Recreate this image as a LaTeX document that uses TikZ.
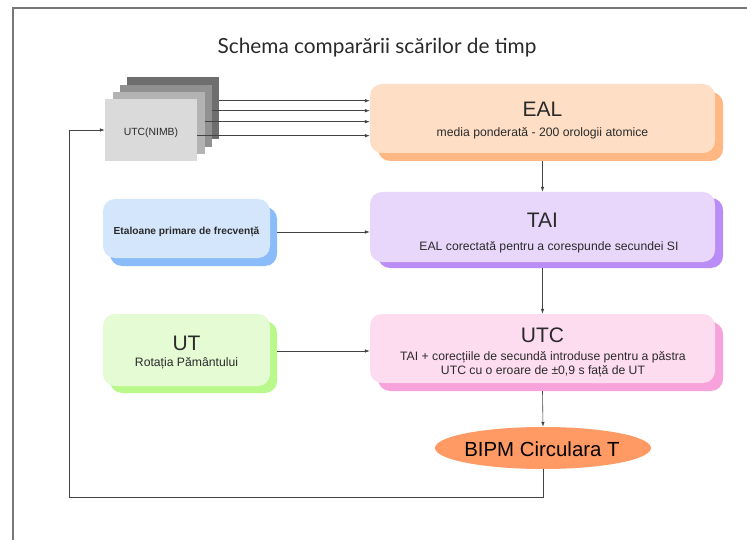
\documentclass[tikz,border=0pt]{standalone}
\usepackage{fontspec}
\setmainfont{Liberation Sans}
\newfontfamily\titlefont{Lato}
\usetikzlibrary{arrows.meta,shapes.geometric,shadows}
\definecolor{framec}{HTML}{777777}
\definecolor{linec}{HTML}{444444}
\definecolor{ealf}{HTML}{FEDFC6}
\definecolor{eals}{HTML}{FFB884}
\definecolor{taif}{HTML}{E8D7FB}
\definecolor{tais}{HTML}{BA8CF6}
\definecolor{etaf}{HTML}{D4E6FC}
\definecolor{etas}{HTML}{89BCF8}
\definecolor{utf}{HTML}{E5FBD4}
\definecolor{uts}{HTML}{B9F98B}
\definecolor{utcf}{HTML}{FEDCF0}
\definecolor{utcs}{HTML}{F8A2DB}
\definecolor{bipmf}{HTML}{FF9A64}
\definecolor{g1}{HTML}{DADADA}
\definecolor{g2}{HTML}{B3B3B3}
\definecolor{g3}{HTML}{919191}
\definecolor{g4}{HTML}{6E6E6E}
\definecolor{txt}{HTML}{2A2A2A}
\begin{document}
\begin{tikzpicture}[x=1pt,y=-1pt,
  card/.style={draw=none, rectangle, rounded corners=12pt, inner sep=0pt},
  stackbox/.style={draw=none, rectangle, inner sep=0pt, minimum width=92pt, minimum height=62pt},
  big/.style={font=\fontsize{21}{21}\selectfont, text=txt, inner sep=0pt},
  small/.style={font=\fontsize{12.2}{14}\selectfont, text=txt, inner sep=0pt, align=center},
  arr/.style={draw=linec, line width=0.6pt, -{Latex[length=5pt,width=3.5pt]}},
  ln/.style={draw=linec, line width=0.6pt}]
\useasboundingbox (0,0) rectangle (747,540);
\fill[white] (0,0) rectangle (747,540);
\draw[framec, line width=1.3pt] (13,540) -- (13,8) -- (747,8);

\node[font=\titlefont\fontsize{20.8}{21}\selectfont, text=txt, inner sep=0pt] (title) at (377,48) {Schema comparării scărilor de timp};

% UTC(NIMB) stack
\node[stackbox, fill=g4] (n4) at (172.5,108) {};
\node[stackbox, fill=g3] (n3) at (165.5,116) {};
\node[stackbox, fill=g2] (n2) at (158.5,123) {};
\node[stackbox, fill=g1] (n1) at (151,130) {};
\node[font=\fontsize{10.4}{12}\selectfont, text=txt, inner sep=0pt] (nimbt) at (151,133) {UTC(NIMB)};

% boxes
\node[card, fill=ealf, minimum width=345pt, minimum height=69pt,
  general shadow={fill=eals, shadow xshift=8pt, shadow yshift=-8pt}] (eal) at (542.5,118.5) {};
\node[big] (ealt) at (542.5,109) {EAL};
\node[small] (eals) at (542.5,133) {media ponderată - 200 orologii atomice};

\node[card, fill=taif, minimum width=345pt, minimum height=70pt,
  general shadow={fill=tais, shadow xshift=8pt, shadow yshift=-6pt}] (tai) at (542.5,227) {};
\node[big] (tait) at (542.5,220) {TAI};
\node[small] (tais) at (549,247) {EAL corectată pentru a corespunde secundei SI};

\node[card, fill=etaf, minimum width=167pt, minimum height=59pt,
  general shadow={fill=etas, shadow xshift=7pt, shadow yshift=-8pt}] (eta) at (186.5,228.5) {};
\node[font=\bfseries\fontsize{10.2}{12}\selectfont, text=txt, inner sep=0pt] (etat) at (186.5,232) {Etaloane primare de frecvență};

\node[card, fill=utf, minimum width=167pt, minimum height=72pt,
  general shadow={fill=uts, shadow xshift=7pt, shadow yshift=-7pt}] (ut) at (186.5,350) {};
\node[big] (utt) at (186.5,343) {UT};
\node[small] (uts) at (186.5,363) {Rotația Pământului};

\node[card, fill=utcf, minimum width=345pt, minimum height=69pt,
  general shadow={fill=utcs, shadow xshift=8pt, shadow yshift=-8pt}] (utc) at (542.5,348.5) {};
\node[big] (utct) at (542.5,335) {UTC};
\node[small] (utcs) at (543,364) {TAI + corecțiile de secundă introduse pentru a păstra\\UTC cu o eroare de ±0,9 s față de UT};

\node[ellipse, fill=bipmf, draw=none, minimum width=216pt, minimum height=42pt, inner sep=0pt] (bipm) at (543,448) {};
\node[font=\fontsize{20.4}{21}\selectfont, text=black, inner sep=0pt] (bipmt) at (542,449) {BIPM Circulara T};

% connectors from stack
\coordinate (s1) at (n4.east |- 0,100.7);
\coordinate (s2) at (n3.east |- 0,110.7);
\coordinate (s3) at (n2.east |- 0,121.7);
\coordinate (s4) at (n1.east |- 0,135.7);
\draw[arr] (s1) -- (s1 -| eal.west);
\draw[arr] (s2) -- (s2 -| eal.west);
\draw[arr] (s3) -- (s3 -| eal.west);
\draw[arr] (s4) -- (s4 -| eal.west);

% vertical chain
\draw[arr] ([yshift=-8pt]eal.south) -- (tai.north);
\draw[arr] ([yshift=-6pt]tai.south) -- (utc.north);
\draw[arr] ([yshift=-8pt]utc.south) -- (bipm.north);

% side inputs
\coordinate (a1) at (277,232);
\draw[arr] (a1) -- (a1 -| tai.west);
\coordinate (a2) at (277,351);
\draw[arr] (a2) -- (a2 -| utc.west);

% feedback
\coordinate (fb1) at (543,497);
\coordinate (fb2) at (69,130);
\draw[arr] (bipm.south) -- (fb1) -| (fb2) -- (n1.west);
\end{tikzpicture}
\end{document}
